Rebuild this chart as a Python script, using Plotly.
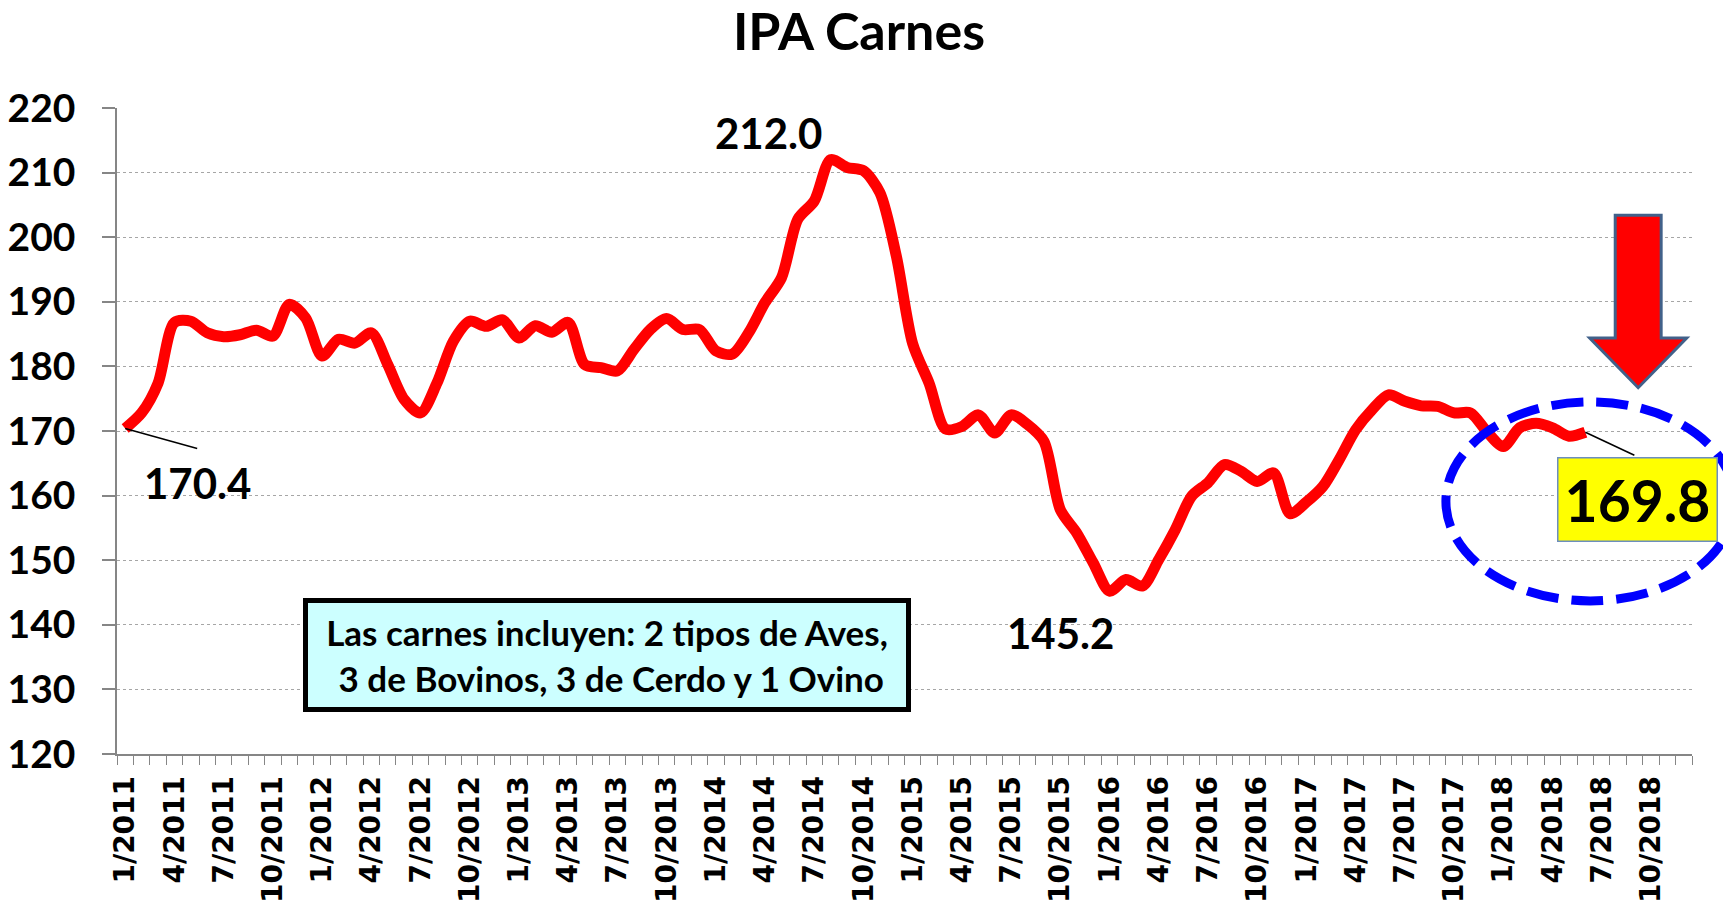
import plotly.graph_objects as go

# ---------------- data ----------------
ipa_values = [
    170.4, 172.8, 177.4, 186.8, 187.0, 185.2, 184.6, 184.9, 185.6, 184.7, 189.6, 187.5,   # 2011
    181.6, 184.2, 183.6, 185.2, 180.3, 174.9, 172.8, 177.4, 183.9, 187.0, 186.2, 187.2,   # 2012
    184.4, 186.3, 185.3, 186.8, 180.3, 179.8, 179.3, 182.6, 185.7, 187.4, 185.7, 185.7,   # 2013
    182.4, 181.9, 185.2, 189.9, 193.7, 202.8, 205.6, 212.0, 210.8, 210.3, 206.9, 197.1,   # 2014
    183.5, 177.4, 170.3, 170.7, 172.5, 169.7, 172.5, 171.0, 168.4, 157.8, 154.2, 149.6,   # 2015
    145.2, 147.0, 146.0, 150.1, 154.7, 159.9, 162.0, 164.8, 163.8, 162.2, 163.5, 157.2,   # 2016
    159.0, 161.4, 165.6, 170.2, 173.3, 175.6, 174.6, 173.9, 173.8, 172.8, 172.8, 169.9,   # 2017
    167.6, 170.5, 171.2, 170.5, 169.2, 169.8,                                             # 2018
]
years = [2011, 2012, 2013, 2014, 2015, 2016, 2017, 2018]
months_per_year = 12
tick_labels = [
    "1/2011", "4/2011", "7/2011", "10/2011",
    "1/2012", "4/2012", "7/2012", "10/2012",
    "1/2013", "4/2013", "7/2013", "10/2013",
    "1/2014", "4/2014", "7/2014", "10/2014",
    "1/2015", "4/2015", "7/2015", "10/2015",
    "1/2016", "4/2016", "7/2016", "10/2016",
    "1/2017", "4/2017", "7/2017", "10/2017",
    "1/2018", "4/2018", "7/2018", "10/2018",
]
title_text = "IPA Carnes"
note_text = "Las carnes incluyen: 2 tipos de Aves,<br> 3 de Bovinos, 3 de Cerdo y 1 Ovino"

# ---------------- derived ----------------
n_slots = len(years) * months_per_year          # 96 monthly slots on the axis
x_idx = list(range(len(ipa_values)))
tick_pos = list(range(0, n_slots, 3))
x_min, x_max = -0.5, n_slots - 0.5

i_first = 0
i_last = len(ipa_values) - 1
i_max = max(x_idx, key=lambda i: ipa_values[i])
i_min = min(x_idx, key=lambda i: ipa_values[i])

FONT = "Lato, 'Open Sans', sans-serif"
GRAY = "#868686"

# the page body has an 8px default margin, so the figure is sized to fit the window
FIG_W, FIG_H = 1723, 898

fig = go.Figure()
fig.add_trace(go.Scatter(
    x=x_idx, y=ipa_values, mode="lines",
    line=dict(color="#FF0000", width=11, shape="spline", smoothing=0.8),
    hoverinfo="skip", showlegend=False,
))

fig.update_layout(
    width=FIG_W, height=FIG_H,
    paper_bgcolor="white", plot_bgcolor="white",
    margin=dict(l=109, r=39, t=100, b=152),
    title=dict(text=title_text, x=851 / FIG_W, xref="container", xanchor="center",
               y=1 - 24 / FIG_H, yref="container", yanchor="middle",
               font=dict(family=FONT, size=52, color="black", weight="bold")),
    showlegend=False,
)

fig.update_xaxes(
    range=[x_min, x_max], showgrid=False, zeroline=False, automargin=False,
    showline=True, linecolor=GRAY, linewidth=1.5,
    tickmode="array", tickvals=tick_pos, ticktext=tick_labels,
    ticks="", tickangle=-90, ticklabelstandoff=9,
    tickfont=dict(family="'DejaVu Sans', Verdana, sans-serif", size=28, color="black", weight="bold"),
    minor=dict(ticks="outside", ticklen=9, tickcolor=GRAY, tickwidth=1,
               tickmode="linear", tick0=x_min, dtick=1, showgrid=False),
)
fig.update_yaxes(
    range=[120, 220], tick0=120, dtick=10, zeroline=False, automargin=False,
    showgrid=True, gridcolor="#A6A6A6", gridwidth=1, griddash="dot",
    showline=True, linecolor=GRAY, linewidth=1.5,
    ticks="outside", ticklen=13, tickcolor=GRAY, tickwidth=1.5,
    ticklabelstandoff=19,
    tickfont=dict(family=FONT, size=39, color="black", weight="bold"),
)

label_font = dict(family=FONT, size=42, color="black", weight="bold")

# max label
fig.add_annotation(x=i_max, y=ipa_values[i_max], xref="x", yref="y",
                   text=f"{ipa_values[i_max]:.1f}", showarrow=False,
                   xshift=-62, yshift=27, font=label_font)
# min label
fig.add_annotation(x=i_min, y=ipa_values[i_min], xref="x", yref="y",
                   text=f"{ipa_values[i_min]:.1f}", showarrow=False,
                   xshift=-49, yshift=-42, font=label_font)
# first label + leader
fig.add_annotation(x=i_first, y=ipa_values[i_first], xref="x", yref="y",
                   text=f"{ipa_values[i_first]:.1f}", showarrow=False,
                   xshift=72, yshift=-55, font=label_font)
fig.add_shape(type="line", xref="x", yref="y",
              xsizemode="pixel", ysizemode="pixel",
              xanchor=i_first, yanchor=ipa_values[i_first],
              x0=0, x1=72, y0=0, y1=-20,
              line=dict(color="black", width=1.5))
# last label (yellow box) + leader
fig.add_annotation(x=i_last, y=ipa_values[i_last], xref="x", yref="y",
                   text=f"{ipa_values[i_last]:.1f}", showarrow=False,
                   xshift=52, yshift=-67,
                   font=dict(family=FONT, size=57, color="black", weight="bold"),
                   bgcolor="#FFFF00", bordercolor="#6C8EBF", borderwidth=1.5,
                   borderpad=3, width=152, height=76)
fig.add_shape(type="line", xref="x", yref="y",
              xsizemode="pixel", ysizemode="pixel",
              xanchor=i_last, yanchor=ipa_values[i_last],
              x0=0, x1=49, y0=0, y1=-23,
              line=dict(color="black", width=1.5))

# blue dashed ellipse around the latest values (paper x so it can pass the plot edge)
def to_paper_x(xv):
    return (xv - x_min) / (x_max - x_min)

ell_cx = i_last + 0.3
ell_hw = 8.8
ell_cy = ipa_values[i_last] - 10.7
ell_hh = 15.4
fig.add_shape(type="circle", xref="paper", yref="y",
              x0=to_paper_x(ell_cx - ell_hw), x1=to_paper_x(ell_cx + ell_hw),
              y0=ell_cy - ell_hh, y1=ell_cy + ell_hh,
              line=dict(color="#0000FF", width=9, dash="32px,13px"),
              layer="above")

# red down arrow above the ellipse
ax_c = i_last + 3.22
sw, hw = 1.40, 2.96
y_top = ipa_values[i_last] + 33.6
y_base = ipa_values[i_last] + 14.6
y_tip = ipa_values[i_last] + 6.9
arrow_path = (f"M {ax_c - sw},{y_top} L {ax_c + sw},{y_top} L {ax_c + sw},{y_base} "
              f"L {ax_c + hw},{y_base} L {ax_c},{y_tip} L {ax_c - hw},{y_base} "
              f"L {ax_c - sw},{y_base} Z")
fig.add_shape(type="path", xref="x", yref="y", path=arrow_path,
              fillcolor="#FF0000", line=dict(color="#41618A", width=3), layer="above")

# note box
fig.add_annotation(x=0.311, y=0.1525, xref="paper", yref="paper",
                   xanchor="center", yanchor="middle",
                   text=note_text, showarrow=False, align="center",
                   font=dict(family=FONT, size=35, color="black", weight="bold"),
                   bgcolor="#CCFFFF", bordercolor="black", borderwidth=5,
                   borderpad=2, width=594, height=100)

fig.write_html("out.html")
